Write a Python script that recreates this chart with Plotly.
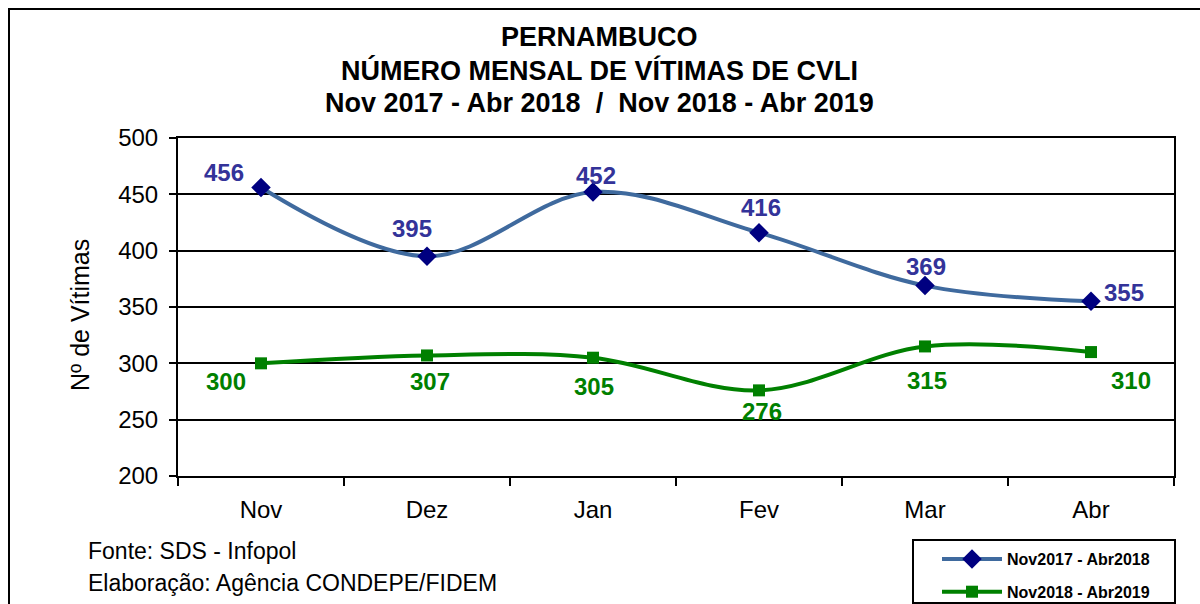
import plotly.graph_objects as go

months = ["Nov", "Dez", "Jan", "Fev", "Mar", "Abr"]
serie_a_nome = "Nov2017 - Abr2018"
serie_a = [456, 395, 452, 416, 369, 355]
serie_b_nome = "Nov2018 - Abr2019"
serie_b = [300, 307, 305, 276, 315, 310]
y_ticks = [200, 250, 300, 350, 400, 450, 500]

# label offsets (px) for data labels
off_a = [(-37, 15), (-15, 28), (3, 17), (2, 25), (1, 19), (33, 9)]
off_b = [(-35, -18), (3, -26), (1, -29), (3, -21), (2, -34), (40, -28)]

W, H = 1200, 604
L, T = 178, 138
R = W - 1174
B = H - 476
PW, PH = W - L - R, H - T - B


def px(x):
    return (x - L) / PW


def py(y):
    return (H - B - y) / PH


FONT = "Liberation Sans, Arial, sans-serif"
BLUE_LINE = "#3F6A9E"
BLUE_MK = "#000080"
BLUE_TXT = "#333399"
GREEN = "#008000"

fig = go.Figure()
fig.add_trace(go.Scatter(
    x=months, y=serie_a, name=serie_a_nome, mode="lines+markers",
    line=dict(color=BLUE_LINE, width=4, shape="spline", smoothing=1),
    marker=dict(symbol="diamond", size=15, color=BLUE_MK),
    legendgroup="a",
))
fig.add_trace(go.Scatter(
    x=months, y=serie_b, name=serie_b_nome, mode="lines+markers",
    line=dict(color=GREEN, width=4, shape="spline", smoothing=1),
    marker=dict(symbol="square", size=12, color=GREEN),
    legendgroup="b",
))

ann = []
for m, v, (dx, dy) in zip(months, serie_a, off_a):
    ann.append(dict(x=m, y=v, xref="x", yref="y", text=f"<b>{v}</b>", showarrow=False,
                    xshift=dx, yshift=dy, font=dict(family=FONT, size=24, color=BLUE_TXT)))
for m, v, (dx, dy) in zip(months, serie_b, off_b):
    ann.append(dict(x=m, y=v, xref="x", yref="y", text=f"<b>{v}</b>", showarrow=False,
                    xshift=dx, yshift=dy, font=dict(family=FONT, size=24, color=GREEN)))

titles = ["PERNAMBUCO", "NÚMERO MENSAL DE VÍTIMAS DE CVLI",
          "Nov 2017 - Abr 2018  /  Nov 2018 - Abr 2019"]
for t, yy in zip(titles, [37, 70, 103]):
    ann.append(dict(x=px(599), y=py(yy), xref="paper", yref="paper", text=f"<b>{t}</b>",
                    showarrow=False, xanchor="center", yanchor="middle",
                    font=dict(family=FONT, size=27, color="black")))

ann.append(dict(x=px(80), y=py(315), xref="paper", yref="paper", text="Nº de Vítimas",
                showarrow=False, textangle=-90, xanchor="center", yanchor="middle",
                font=dict(family=FONT, size=25, color="black")))
ann.append(dict(x=px(86), y=py(551), xref="paper", yref="paper", text="Fonte: SDS - Infopol",
                showarrow=False, xanchor="left", yanchor="middle",
                font=dict(family=FONT, size=23, color="black")))
ann.append(dict(x=px(86), y=py(583), xref="paper", yref="paper",
                text="Elaboração: Agência CONDEPE/FIDEM",
                showarrow=False, xanchor="left", yanchor="middle",
                font=dict(family=FONT, size=23, color="black")))

shapes = [
    dict(type="rect", xref="paper", yref="paper", x0=px(9), x1=px(1250), y0=py(9), y1=py(700),
         line=dict(color="black", width=2), fillcolor="rgba(0,0,0,0)", layer="below"),
    dict(type="rect", xref="paper", yref="paper", x0=px(913), x1=px(1175), y0=py(540), y1=py(603),
         line=dict(color="black", width=2), fillcolor="white"),
]

fig.update_layout(
    width=W, height=H,
    margin=dict(l=L, r=R, t=T, b=B, autoexpand=False),
    paper_bgcolor="white", plot_bgcolor="white",
    font=dict(family=FONT, color="black"),
    showlegend=True,
    legend=dict(xref="container", yref="container", x=937 / W, y=1 - 542 / H,
                xanchor="left", yanchor="top",
                bgcolor="rgba(0,0,0,0)", borderwidth=0,
                font=dict(family=FONT, size=16, color="black", weight="bold"),
                itemwidth=60, tracegroupgap=9, traceorder="grouped"),
    annotations=ann,
    shapes=shapes,
    xaxis=dict(type="category", tickson="boundaries", ticks="outside", ticklen=8,
               tickwidth=2, tickcolor="black", showgrid=False, showline=True,
               linecolor="black", linewidth=2, mirror=True, range=[-0.5, 5.5],
               tickfont=dict(family=FONT, size=24, color="black"), ticklabelstandoff=11,
               automargin=False),
    yaxis=dict(range=[200, 500], tickvals=y_ticks, ticks="outside", ticklen=7,
               tickwidth=2, tickcolor="black", showgrid=True, gridcolor="black",
               gridwidth=2, showline=True, linecolor="black", linewidth=2, mirror=True,
               zeroline=False, tickfont=dict(family=FONT, size=24, color="black"),
               ticklabelstandoff=6, automargin=False),
)

fig.write_html("out.html", config={"displayModeBar": False},
               post_script="document.body.style.margin='0';document.body.style.overflow='hidden';")
